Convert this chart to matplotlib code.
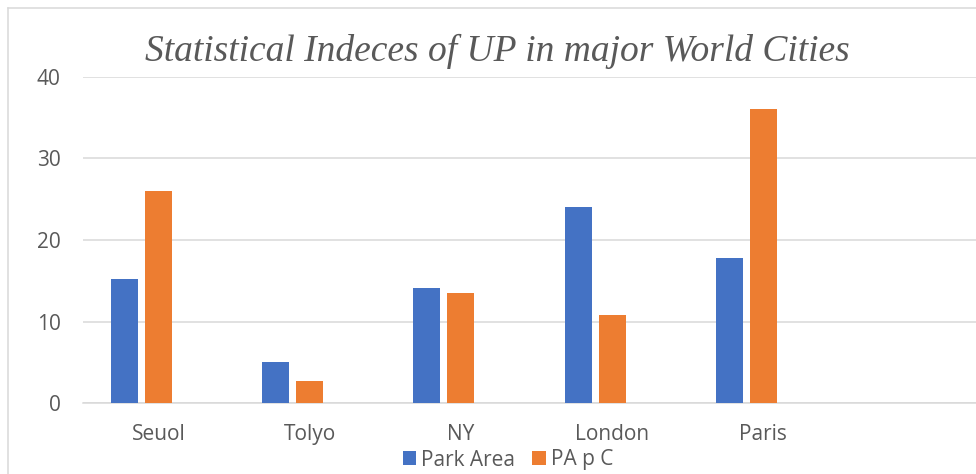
import numpy as np
import matplotlib.pyplot as plt
from matplotlib.lines import Line2D

# data
cities = ["Seuol", "Tolyo", "NY", "London", "Paris"]
park_area = [15.2, 5.1, 14.1, 24.1, 17.8]
pa_per_capita = [26.0, 2.7, 13.5, 10.8, 36.0]
y_ticks = [0, 10, 20, 30, 40]

W, H = 976, 474
fig = plt.figure(figsize=(W / 100, H / 100), dpi=100)
plt.rcParams['font.family'] = ['Open Sans', 'DejaVu Sans']

# axes reaches past the right edge, the chart is cropped there
ax = fig.add_axes([83 / W, (H - 403.3) / H, 907 / W, 326.6 / H])

x = np.arange(len(cities))
pitch = 0.225
width = 0.179
ax.bar(x - pitch, park_area, width, color="#4472C4", label="Park Area", zorder=3)
ax.bar(x, pa_per_capita, width, color="#ED7D31", label="PA p C", zorder=3)

ax.set_xlim(-0.5, 5.5)
ax.set_ylim(0, 40)
ax.set_yticks(y_ticks)
ax.set_xticks(x)
ax.set_xticklabels(cities)
ax.yaxis.grid(True, color="#d9d9d9", linewidth=1.1)
ax.set_axisbelow(True)
for s in ["top", "right", "left"]:
    ax.spines[s].set_visible(False)
ax.spines["bottom"].set_color("#d9d9d9")
ax.spines["bottom"].set_linewidth(1.1)
ax.tick_params(axis="both", length=0, labelsize=15, labelcolor="#595959")
ax.tick_params(axis="y", pad=16)
ax.tick_params(axis="x", pad=15)

fig.text(497 / W, 1 - 51 / H, "Statistical Indeces of UP in major World Cities",
         family="Liberation Serif", style="italic", fontsize=27, color="#595959",
         ha="center", va="center")

fig.legend(loc="center", bbox_to_anchor=(508 / W, 1 - 460 / H), ncol=2, frameon=False,
           fontsize=15, labelcolor="#595959", handlelength=0.65, handleheight=0.65,
           handletextpad=0.25, columnspacing=0.8, borderpad=0)

# chart area border (cropped at right and bottom)
fig.add_artist(Line2D([8 / W, 8 / W], [-0.1, 1 - 8 / H], color="#d9d9d9", linewidth=1.1))
fig.add_artist(Line2D([8 / W, 1.1], [1 - 8 / H, 1 - 8 / H], color="#d9d9d9", linewidth=1.1))

fig.savefig("out.png", dpi=100)
